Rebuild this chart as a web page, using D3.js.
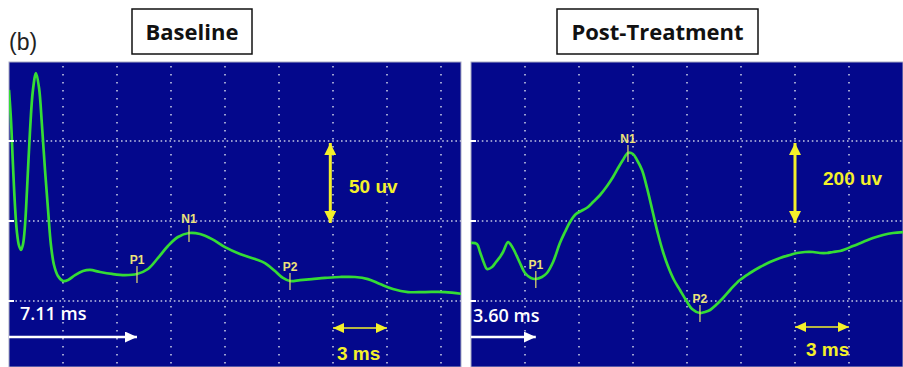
<!DOCTYPE html>
<html>
<head>
<meta charset="utf-8">
<script src="https://cdn.jsdelivr.net/npm/d3@7"></script>
<style>
  html, body { margin: 0; padding: 0; background: #ffffff; }
  svg { display: block; }
</style>
</head>
<body>
<svg id="chart" width="903" height="367"></svg>
<script>
// Evoked-potential traces: time in ms, amplitude in µV
const baselineMs = [0, 0.11, 0.22, 0.33, 0.44, 0.56, 0.67, 0.78, 0.89, 1.0, 1.17, 1.33, 1.5, 1.67, 1.83, 2.0, 2.17, 2.33, 2.5, 2.72, 3.0, 3.28, 3.67, 4.11, 4.5, 5.06, 5.72, 6.44, 7.11, 7.72, 8.28, 8.83, 9.39, 10.0, 10.61, 11.28, 12.0, 12.83, 13.67, 14.22, 14.78, 15.22, 15.61, 16.17, 16.83, 17.56, 18.39, 19.22, 19.94, 20.61, 21.33, 22.17, 23.11, 24.22, 25.2];
const baselineUv = [81.9, 63.1, 35, 10, -6.9, -15.6, -18.1, -14.4, -2.5, 19.4, 56.9, 81.9, 92.5, 83.1, 60, 31.9, 6.9, -15, -27.5, -34.4, -37.5, -36.9, -33.8, -31.3, -30.6, -31.9, -33.1, -33.8, -33.1, -30, -23.1, -15.6, -10, -7.5, -8.1, -11.3, -16.3, -20.6, -23.8, -26.3, -31.3, -35.6, -37.5, -36.9, -36.3, -35.6, -35, -35, -36.3, -39.4, -42.5, -44.4, -44.4, -44.4, -45.6];

const postMs = [0, 0.33, 0.5, 0.72, 0.89, 1.17, 1.39, 1.61, 1.78, 2.06, 2.22, 2.44, 2.72, 3.0, 3.33, 3.6, 3.94, 4.22, 4.56, 4.94, 5.22, 5.5, 5.83, 6.22, 6.5, 6.78, 7.17, 7.56, 7.89, 8.17, 8.44, 8.72, 9.0, 9.22, 9.5, 9.78, 10.11, 10.39, 10.67, 10.94, 11.28, 11.61, 11.94, 12.28, 12.72, 13.0, 13.28, 13.61, 14.0, 14.44, 14.94, 15.5, 16.06, 16.61, 17.17, 17.72, 18.11, 18.56, 19.0, 19.39, 19.78, 20.11, 20.5, 20.83, 21.22, 21.78, 22.33, 22.89, 23.44, 24.1];
const postUv = [-55, -57.5, -77.5, -105, -120, -115, -102.5, -90, -77.5, -52.5, -60, -77.5, -105, -130, -142.5, -145, -140, -130, -102.5, -55, -27.5, -2.5, 17.5, 27.5, 35, 47.5, 65, 87.5, 110, 132.5, 152.5, 170, 167.5, 152.5, 127.5, 82.5, 20, -32.5, -77.5, -112.5, -147.5, -172.5, -197.5, -220, -230, -227.5, -222.5, -210, -192.5, -170, -147.5, -130, -115, -102.5, -92.5, -85, -80, -77.5, -77.5, -80, -80, -77.5, -75, -70, -62.5, -52.5, -42.5, -35, -30, -27.5];

// Labelled components
const peakNames = ["P1", "N1", "P2"];
const baselinePeakMs = [7.11, 10.0, 15.61];
const baselinePeakUv = [-33.1, -7.5, -37.5];
const postPeakMs = [3.60, 8.72, 12.72];
const postPeakUv = [-145, 170, -230];

// Panel annotations
const panelTitles = ["Baseline", "Post-Treatment"];
const p1Latencies = [7.11, 3.60];        // ms
const ampCalibration = [50, 200];        // µV per division
const timeCalibration = [3, 3];          // ms per division

const svg = d3.select("#chart");
const BG = "#04088c";
const TRACE = "#35dc35";
const YELLOW = "#f4f02a";
const LABEL = "#ece27a";

const panels = [
  { x0: 9,   x1: 461, title: panelTitles[0], ms: baselineMs, uv: baselineUv,
    pMs: baselinePeakMs, pUv: baselinePeakUv, lat: p1Latencies[0], amp: ampCalibration[0], tcal: timeCalibration[0],
    titleBox: [132, 252], ampText: [349, 193], tText: [337, 360], latText: [20, 320], arrowX: 17.85, tArrowY: 328 },
  { x0: 471, x1: 903, title: panelTitles[1], ms: postMs, uv: postUv,
    pMs: postPeakMs, pUv: postPeakUv, lat: p1Latencies[1], amp: ampCalibration[1], tcal: timeCalibration[1],
    titleBox: [557, 758], ampText: [823, 185], tText: [806, 356], latText: [473, 322], arrowX: 18.0, tArrowY: 327 }
];

const screenTop = 62, screenBottom = 367;

// Arrow-head markers
const defs = svg.append("defs");
function marker(id, color, w, h, orient) {
  defs.append("marker")
    .attr("id", id).attr("viewBox", `0 0 ${w} ${h}`)
    .attr("refX", w).attr("refY", h / 2)
    .attr("markerWidth", w).attr("markerHeight", h)
    .attr("markerUnits", "userSpaceOnUse")
    .attr("orient", orient)
    .append("path").attr("d", `M0,0 L${w},${h / 2} L0,${h} Z`).attr("fill", color);
}
marker("yBig", YELLOW, 12, 12, "auto-start-reverse");
marker("ySmall", YELLOW, 11, 10, "auto-start-reverse");
marker("wHead", "#ffffff", 12, 11, "auto");

// "(b)" panel tag
svg.append("text").attr("x", 9).attr("y", 50)
  .attr("font-family", "Liberation Sans, Arial, sans-serif").attr("font-size", 23)
  .attr("fill", "#222").text("(b)");

panels.forEach((p, i) => {
  const x = d3.scaleLinear().domain([0, 3]).range([p.x0, p.x0 + 54]);
  const y = d3.scaleLinear().domain([-p.amp, p.amp]).range([301, 141]);

  // Title box
  svg.append("rect").attr("x", p.titleBox[0]).attr("y", 9)
    .attr("width", p.titleBox[1] - p.titleBox[0]).attr("height", 45)
    .attr("fill", "#fff").attr("stroke", "#111").attr("stroke-width", 1.5);
  svg.append("text").attr("x", (p.titleBox[0] + p.titleBox[1]) / 2).attr("y", 40)
    .attr("text-anchor", "middle").attr("font-family", "Open Sans, sans-serif")
    .attr("font-weight", 700).attr("font-size", 22).attr("fill", "#111").text(p.title);

  const g = svg.append("g");
  const clipId = "clip" + i;
  defs.append("clipPath").attr("id", clipId)
    .append("rect").attr("x", p.x0).attr("y", screenTop).attr("width", p.x1 - p.x0).attr("height", screenBottom - screenTop);

  // Screen background
  g.append("rect").attr("x", p.x0).attr("y", screenTop).attr("width", p.x1 - p.x0).attr("height", screenBottom - screenTop)
    .attr("fill", BG).attr("stroke", "#a8aac4").attr("stroke-width", 1);

  const grid = g.append("g").attr("clip-path", `url(#${clipId})`);
  // Vertical dotted grid (one division = 3 ms)
  const tMax = x.invert(p.x1);
  d3.range(3, tMax, 3).forEach(t => {
    grid.append("line").attr("x1", x(t)).attr("x2", x(t)).attr("y1", screenTop + 4).attr("y2", screenBottom)
      .attr("stroke", "#c4c7e4").attr("stroke-width", 1.6).attr("stroke-dasharray", "1.6,6.4");
  });
  // Horizontal dotted grid (one division = amplitude calibration)
  [p.amp, 0, -p.amp].forEach(v => {
    grid.append("line").attr("x1", p.x0 + 2).attr("x2", p.x1).attr("y1", y(v)).attr("y2", y(v))
      .attr("stroke", "#c4c7e4").attr("stroke-width", 1.6).attr("stroke-dasharray", "1.6,2.8");
    g.append("line").attr("x1", p.x0 - 1).attr("x2", p.x0 + 5).attr("y1", y(v)).attr("y2", y(v))
      .attr("stroke", "#ffffff").attr("stroke-width", 2);
  });

  // Trace
  const line = d3.line().x(d => x(d[0])).y(d => y(d[1])).curve(d3.curveCatmullRom.alpha(0.5));
  grid.append("path").datum(d3.zip(p.ms, p.uv)).attr("d", line)
    .attr("fill", "none").attr("stroke", TRACE).attr("stroke-width", 2.7)
    .attr("stroke-linejoin", "round");

  // Component markers
  peakNames.forEach((name, k) => {
    const px = x(p.pMs[k]), py = y(p.pUv[k]);
    g.append("line").attr("x1", px).attr("x2", px).attr("y1", py - 8).attr("y2", py + 9)
      .attr("stroke", "#d8d070").attr("stroke-width", 1.3);
    g.append("text").attr("x", px).attr("y", py - 10).attr("text-anchor", "middle")
      .attr("font-family", "Liberation Sans, Arial, sans-serif").attr("font-weight", 700)
      .attr("font-size", 12).attr("fill", LABEL).text(name);
  });

  // Amplitude calibration arrow
  g.append("line").attr("x1", x(p.arrowX)).attr("x2", x(p.arrowX))
    .attr("y1", y(p.amp) + 2).attr("y2", y(0) + 2)
    .attr("stroke", YELLOW).attr("stroke-width", 3)
    .attr("marker-start", "url(#yBig)").attr("marker-end", "url(#yBig)");
  g.append("text").attr("x", p.ampText[0]).attr("y", p.ampText[1])
    .attr("font-family", "Liberation Sans, Arial, sans-serif").attr("font-weight", 700)
    .attr("font-size", 19).attr("fill", YELLOW).text(p.amp + " uv");

  // Time calibration arrow
  g.append("line").attr("x1", x(18)).attr("x2", x(18 + p.tcal)).attr("y1", p.tArrowY).attr("y2", p.tArrowY)
    .attr("stroke", YELLOW).attr("stroke-width", 1.6)
    .attr("marker-start", "url(#ySmall)").attr("marker-end", "url(#ySmall)");
  g.append("text").attr("x", p.tText[0]).attr("y", p.tText[1])
    .attr("font-family", "Liberation Sans, Arial, sans-serif").attr("font-weight", 700)
    .attr("font-size", 19).attr("fill", YELLOW).text(p.tcal + " ms");

  // P1 latency arrow
  g.append("line").attr("x1", x(0)).attr("x2", x(p.lat)).attr("y1", 337).attr("y2", 337)
    .attr("stroke", "#ffffff").attr("stroke-width", 2.6).attr("marker-end", "url(#wHead)");
  g.append("text").attr("x", p.latText[0]).attr("y", p.latText[1])
    .attr("font-family", "Open Sans, sans-serif").attr("font-weight", 600)
    .attr("font-size", 18).attr("fill", "#ffffff").text(p.lat.toFixed(2) + " ms");
});
</script>
</body>
</html>
